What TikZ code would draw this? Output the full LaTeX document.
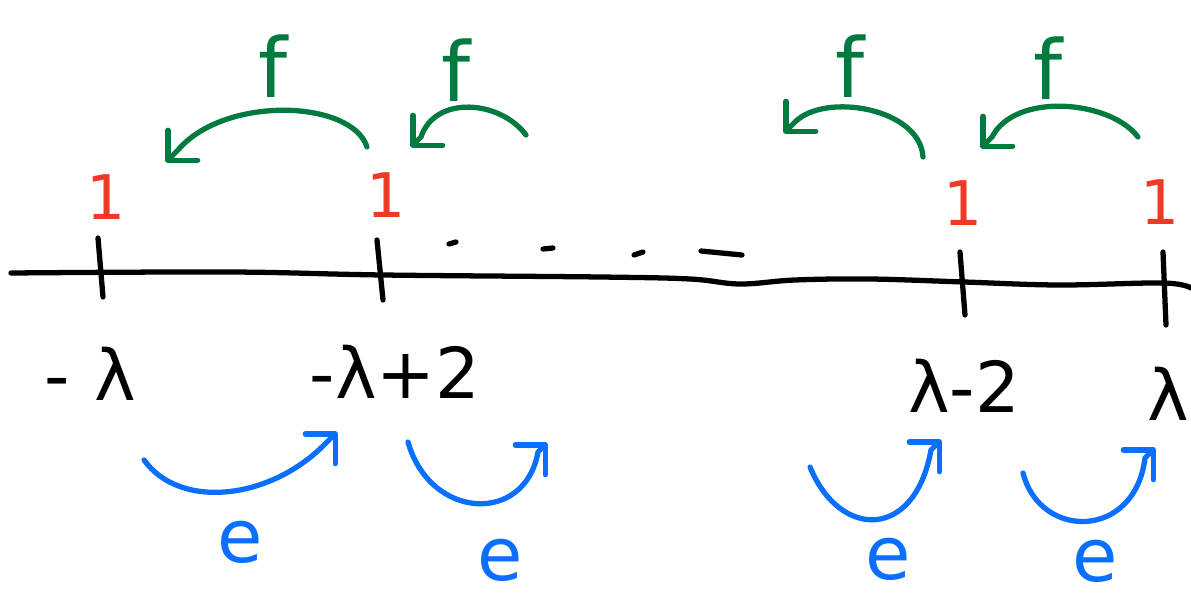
\documentclass[tikz,border=0pt]{standalone}
\usepackage{fontspec}
\setmainfont{DejaVu Sans}
\usetikzlibrary{arrows.meta}
\definecolor{fgreen}{RGB}{0,122,62}
\definecolor{ored}{RGB}{238,58,36}
\definecolor{eblue}{RGB}{10,110,255}
\begin{document}
\begin{tikzpicture}[x=0.02cm,y=-0.02cm, line cap=round, line join=round,
  pen/.style={line width=3pt},
  axisline/.style={pen,black},
  farrow/.style={pen,fgreen,-{Straight Barb[length=12pt,width=24pt,round]}},
  earrow/.style={pen,eblue,-{Straight Barb[length=12pt,width=24pt,round]}},
  txt/.style={anchor=base,inner sep=0pt,text depth=0pt},
  one/.style={txt,text=ored,font=\fontsize{35}{35}\selectfont},
  flabel/.style={txt,text=fgreen,font=\fontsize{47}{47}\selectfont},
  elabel/.style={txt,text=eblue,font=\fontsize{42}{42}\selectfont},
  poslabel/.style={txt,text=black,font=\fontsize{40}{40}\selectfont}]
\useasboundingbox (0,0) rectangle (1191,598);

% main line
\draw[axisline] plot[smooth,tension=0.6] coordinates {(11,273) (230,272) (383,275) (600,277) (690,279) (740,284) (795,280) (870,279) (964,282) (1059,285) (1163,283) (1191,288)};

% ticks
\coordinate (t1a) at (98,238);  \coordinate (t1b) at (103,297);
\coordinate (t2a) at (377,240); \coordinate (t2b) at (383,300);
\coordinate (t3a) at (960,252); \coordinate (t3b) at (965,315);
\coordinate (t4a) at (1163,252);\coordinate (t4b) at (1166,325);
\draw[axisline] (t1a) -- (t1b);
\draw[axisline] (t2a) -- (t2b);
\draw[axisline] (t3a) -- (t3b);
\draw[axisline] (t4a) -- (t4b);

% dots
\coordinate (d1a) at (449,244); \coordinate (d1b) at (456,242);
\coordinate (d2a) at (543,249); \coordinate (d2b) at (553,248);
\coordinate (d3a) at (634,255); \coordinate (d3b) at (643,252);
\coordinate (d4a) at (701,251); \coordinate (d4b) at (742,255);
\draw[axisline] (d1a) -- (d1b);
\draw[axisline] (d2a) -- (d2b);
\draw[axisline] (d3a) -- (d3b);
\draw[axisline] (d4a) -- (d4b);

% red ones
\node[one] (o1) at (106,219) {1};
\node[one] (o2) at (386,217) {1};
\node[one] (o3) at (963,226) {1};
\node[one] (o4) at (1160,224) {1};

% position labels
\node[poslabel] (p1) at (90,400) {-\hspace{0.35em}λ};
\node[poslabel] (p2) at (395,398) {-λ+2};
\node[poslabel] (p3) at (964,412) {λ-2};
\node[poslabel] (p4) at (1168,420) {λ};

% f arrows
\coordinate (g1s) at (367,147); \coordinate (g1k) at (178,150); \coordinate (g1t) at (166,162);
\coordinate (g2s) at (526,135); \coordinate (g2k) at (421,137); \coordinate (g2t) at (411,147);
\coordinate (g3s) at (923,157); \coordinate (g3k) at (795,122); \coordinate (g3t) at (784,133);
\coordinate (g4s) at (1138,137);\coordinate (g4k) at (992,137); \coordinate (g4t) at (981,148);
\draw[farrow] (g1s) .. controls (352,100) and (225,95) .. (g1k) -- (g1t);
\draw[farrow] (g2s) .. controls (500,100) and (435,95) .. (g2k) -- (g2t);
\draw[farrow] (g3s) .. controls (920,108) and (825,92) .. (g3k) -- (g3t);
\draw[farrow] (g4s) .. controls (1110,100) and (1015,92) .. (g4k) -- (g4t);
\node[flabel] (f1) at (273,98) {f};
\node[flabel] (f2) at (456,102) {f};
\node[flabel] (f3) at (850,98) {f};
\node[flabel] (f4) at (1048,100) {f};

% e arrows
\coordinate (b1s) at (144,460); \coordinate (b1k) at (325,444); \coordinate (b1t) at (337,432);
\coordinate (b2s) at (408,442); \coordinate (b2k) at (538,452); \coordinate (b2t) at (547,443);
\coordinate (b3s) at (810,467); \coordinate (b3k) at (931,450); \coordinate (b3t) at (941,440);
\coordinate (b4s) at (1023,473);\coordinate (b4k) at (1145,458);\coordinate (b4t) at (1155,448);
\draw[earrow] (b1s) .. controls (180,510) and (270,500) .. (b1k) -- (b1t);
\draw[earrow] (b2s) .. controls (430,520) and (525,525) .. (b2k) -- (b2t);
\draw[earrow] (b3s) .. controls (840,540) and (915,540) .. (b3k) -- (b3t);
\draw[earrow] (b4s) .. controls (1040,540) and (1135,540) .. (b4k) -- (b4t);
\node[elabel] (e1) at (240,562) {e};
\node[elabel] (e2) at (500,580) {e};
\node[elabel] (e3) at (888,579) {e};
\node[elabel] (e4) at (1095,581) {e};
\end{tikzpicture}
\end{document}
